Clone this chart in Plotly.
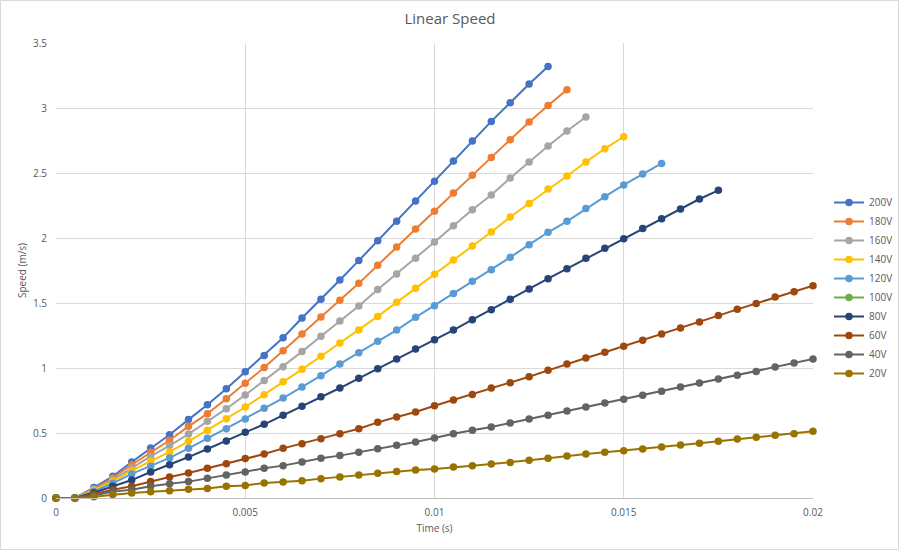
import plotly.graph_objects as go

step = 0.0005
time_s = [round(i * step, 4) for i in range(41)]

series_names = ["200V", "180V", "160V", "140V", "120V", "100V", "80V", "60V", "40V", "20V"]

v200 = [0, 0, 0.08, 0.167, 0.277, 0.385, 0.487, 0.603, 0.718, 0.841, 0.972, 1.097,
        1.233, 1.385, 1.528, 1.677, 1.826, 1.979, 2.128, 2.285, 2.436, 2.592, 2.746,
        2.897, 3.041, 3.185, 3.32]
v180 = [0, 0, 0.07, 0.154, 0.256, 0.351, 0.444, 0.551, 0.649, 0.764, 0.882, 1.003,
        1.133, 1.262, 1.392, 1.521, 1.651, 1.79, 1.931, 2.069, 2.205, 2.346, 2.482,
        2.62, 2.756, 2.892, 3.02, 3.141]
v160 = [0, 0, 0.065, 0.14, 0.23, 0.32, 0.403, 0.492, 0.59, 0.687, 0.792, 0.903,
        1.01, 1.126, 1.244, 1.362, 1.477, 1.603, 1.723, 1.844, 1.969, 2.095, 2.218,
        2.33, 2.462, 2.585, 2.708, 2.823, 2.931]
v140 = [0, 0, 0.06, 0.128, 0.21, 0.282, 0.354, 0.436, 0.521, 0.61, 0.7, 0.795,
        0.895, 0.99, 1.09, 1.192, 1.292, 1.397, 1.505, 1.613, 1.721, 1.831, 1.938,
        2.046, 2.162, 2.266, 2.377, 2.477, 2.585, 2.687, 2.779]
v120 = [0, 0, 0.05, 0.113, 0.185, 0.244, 0.308, 0.382, 0.459, 0.533, 0.608, 0.69,
        0.769, 0.854, 0.941, 1.031, 1.118, 1.205, 1.292, 1.39, 1.479, 1.574, 1.667,
        1.756, 1.851, 1.949, 2.044, 2.128, 2.226, 2.318, 2.408, 2.492, 2.574]
v100 = []
v80 = [0, 0, 0.04, 0.09, 0.138, 0.2, 0.256, 0.315, 0.377, 0.438, 0.505, 0.567,
       0.636, 0.705, 0.779, 0.846, 0.921, 0.995, 1.069, 1.146, 1.218, 1.292, 1.372,
       1.449, 1.528, 1.608, 1.687, 1.764, 1.844, 1.921, 1.995, 2.074, 2.149, 2.223,
       2.3, 2.367]
v60 = [0, 0, 0.03, 0.064, 0.09, 0.126, 0.162, 0.192, 0.228, 0.264, 0.303, 0.338,
       0.382, 0.418, 0.456, 0.495, 0.533, 0.582, 0.623, 0.662, 0.71, 0.754, 0.797,
       0.846, 0.887, 0.933, 0.982, 1.031, 1.077, 1.121, 1.167, 1.213, 1.262, 1.308,
       1.354, 1.403, 1.451, 1.497, 1.546, 1.587, 1.633]
v40 = [0, 0, 0.02, 0.049, 0.064, 0.09, 0.11, 0.126, 0.151, 0.177, 0.2, 0.228,
       0.249, 0.277, 0.305, 0.326, 0.351, 0.379, 0.405, 0.431, 0.462, 0.495, 0.521,
       0.546, 0.577, 0.608, 0.636, 0.669, 0.7, 0.731, 0.759, 0.79, 0.821, 0.854,
       0.885, 0.915, 0.944, 0.974, 1.008, 1.038, 1.069]
v20 = [0, 0, 0.01, 0.026, 0.038, 0.049, 0.056, 0.067, 0.074, 0.09, 0.097, 0.115,
       0.123, 0.133, 0.149, 0.162, 0.177, 0.19, 0.203, 0.215, 0.223, 0.238, 0.249,
       0.262, 0.274, 0.29, 0.305, 0.323, 0.338, 0.351, 0.364, 0.377, 0.392, 0.408,
       0.421, 0.436, 0.454, 0.467, 0.482, 0.495, 0.513]

series_values = [v200, v180, v160, v140, v120, v100, v80, v60, v40, v20]
colors = ["#4472C4", "#ED7D31", "#A5A5A5", "#FFC000", "#5B9BD5", "#70AD47",
          "#264478", "#9E480E", "#636363", "#997300"]

x_ticks = [0, 0.005, 0.01, 0.015, 0.02]
x_tick_labels = ["0", "0.005", "0.01", "0.015", "0.02"]
y_ticks = [0, 0.5, 1, 1.5, 2, 2.5, 3, 3.5]
y_tick_labels = ["0", "0.5", "1", "1.5", "2", "2.5", "3", "3.5"]

FONT = "Open Sans, Noto Sans, sans-serif"
TXT = "#595959"

fig = go.Figure()
for name, vals, col in zip(series_names, series_values, colors):
    fig.add_trace(go.Scatter(
        x=time_s[:len(vals)] if vals else [None],
        y=vals if vals else [None],
        name=name,
        mode="lines+markers",
        line=dict(color=col, width=2),
        marker=dict(color=col, size=7.5, symbol="circle"),
        cliponaxis=False,
        showlegend=True,
    ))

W, H = 900, 551
ml, mr, mt, mb = 56, 87, 43, 53
pw, ph = W - ml - mr, H - mt - mb

fig.update_layout(
    width=W, height=H,
    margin=dict(l=ml, r=mr, t=mt, b=mb, pad=0, autoexpand=False),
    paper_bgcolor="white", plot_bgcolor="white",
    font=dict(family=FONT, color=TXT, size=10),
    title=dict(text="Linear Speed", x=0.5, xanchor="center", y=1 - 19 / H, yanchor="middle",
               font=dict(size=15, color=TXT, family=FONT)),
    legend=dict(x=(829 - ml) / pw, xanchor="left", y=(498 - 188) / ph, yanchor="top",
                font=dict(size=10, color=TXT, family=FONT), bgcolor="rgba(0,0,0,0)",
                traceorder="normal", itemwidth=30, tracegroupgap=0),
    showlegend=True,
)
fig.update_xaxes(
    range=[0, 0.02], tickvals=x_ticks, ticktext=x_tick_labels,
    showgrid=True, gridcolor="#D9D9D9", gridwidth=1,
    showline=True, linecolor="#BFBFBF", linewidth=1,
    zeroline=False, ticks="", ticklen=0, ticklabelstandoff=5,
    tickfont=dict(size=10, color=TXT),
    title=dict(text="Time (s)", font=dict(size=10, color=TXT), standoff=6),
)
fig.update_yaxes(
    range=[0, 3.5], tickvals=y_ticks, ticktext=y_tick_labels,
    showgrid=True, gridcolor="#D9D9D9", gridwidth=1,
    showline=False, zeroline=False, ticks="", ticklen=0, ticklabelstandoff=8,
    tickfont=dict(size=10, color=TXT),
    title=dict(text="Speed (m/s)", font=dict(size=10, color=TXT), standoff=4),
)
# outer chart border
fig.add_shape(type="rect", xref="paper", yref="paper",
              x0=(0.5 - ml) / pw, x1=(W - 1.5 - ml) / pw,
              y0=-(mb - 1.5) / ph, y1=1 + (mt - 0.5) / ph,
              line=dict(color="#D9D9D9", width=1), fillcolor="rgba(0,0,0,0)", layer="below")

fig.write_html("out.html")
